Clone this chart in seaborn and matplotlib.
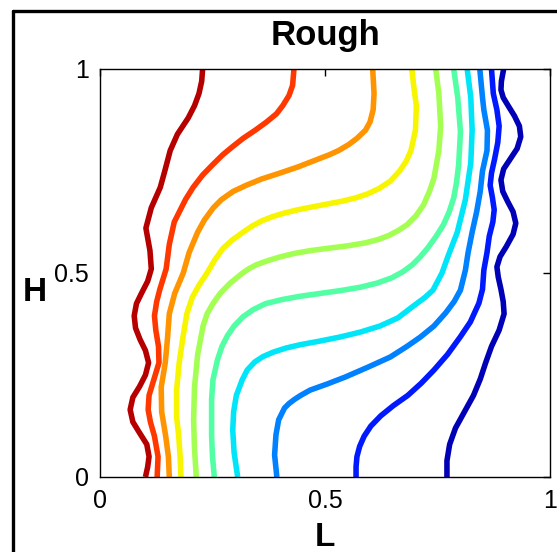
import numpy as np
import pandas as pd
import matplotlib
matplotlib.use("Agg")
import matplotlib.pyplot as plt
from matplotlib.lines import Line2D
import seaborn as sns

# ---- data: each isoline as L (horizontal) read at heights H ----
LEVELS = ["0.95", "0.85", "0.75", "0.65", "0.55", "0.45", "0.35", "0.25", "0.15", "0.05"]

H_095 = [0.000, 0.025, 0.050, 0.080, 0.108, 0.135, 0.165, 0.195, 0.222, 0.250, 0.280, 0.310,
         0.337, 0.365, 0.395, 0.425, 0.452, 0.480, 0.510, 0.555, 0.610, 0.660, 0.710, 0.750,
         0.800, 0.840, 0.880, 0.910, 0.940, 0.970, 1.000]
L_095 = [0.101, 0.106, 0.109, 0.104, 0.088, 0.073, 0.067, 0.073, 0.088, 0.101, 0.108, 0.101,
         0.089, 0.079, 0.076, 0.081, 0.093, 0.106, 0.114, 0.111, 0.102, 0.114, 0.134, 0.144,
         0.156, 0.172, 0.196, 0.210, 0.220, 0.226, 0.228]

H_085 = [0.00, 0.05, 0.10, 0.135, 0.165, 0.20, 0.24, 0.28, 0.32, 0.36, 0.395, 0.43, 0.46, 0.51,
         0.57, 0.625, 0.68, 0.71, 0.74, 0.765, 0.79, 0.81, 0.83, 0.85, 0.87, 0.89, 0.91, 0.935,
         0.96, 1.00]
L_085 = [0.127, 0.129, 0.121, 0.112, 0.107, 0.109, 0.120, 0.131, 0.130, 0.124, 0.121, 0.126,
         0.133, 0.147, 0.154, 0.165, 0.190, 0.207, 0.228, 0.250, 0.273, 0.295, 0.318, 0.345,
         0.370, 0.392, 0.406, 0.420, 0.428, 0.431]

H_075 = [0.00, 0.05, 0.10, 0.16, 0.22, 0.28, 0.34, 0.40, 0.45, 0.50, 0.55, 0.60, 0.63, 0.66,
         0.68, 0.70, 0.715, 0.73, 0.745, 0.76, 0.775, 0.79, 0.80, 0.815, 0.83, 0.85, 0.87, 0.90,
         0.94, 1.00]
L_075 = [0.154, 0.152, 0.146, 0.137, 0.136, 0.145, 0.150, 0.154, 0.166, 0.185, 0.198, 0.217,
         0.232, 0.252, 0.270, 0.296, 0.325, 0.358, 0.400, 0.440, 0.475, 0.510, 0.530, 0.553,
         0.571, 0.590, 0.600, 0.607, 0.609, 0.606]

H_065 = [0.00, 0.05, 0.10, 0.15, 0.21, 0.28, 0.34, 0.40, 0.44, 0.47, 0.50, 0.53, 0.56, 0.58,
         0.60, 0.615, 0.628, 0.638, 0.647, 0.655, 0.662, 0.669, 0.676, 0.684, 0.694, 0.707,
         0.725, 0.75, 0.775, 0.80, 0.85, 0.91, 0.96, 1.00]
L_065 = [0.180, 0.178, 0.175, 0.170, 0.170, 0.176, 0.184, 0.193, 0.205, 0.220, 0.238, 0.254,
         0.273, 0.293, 0.318, 0.338, 0.360, 0.383, 0.410, 0.440, 0.472, 0.505, 0.538, 0.568,
         0.595, 0.620, 0.645, 0.666, 0.681, 0.691, 0.701, 0.703, 0.697, 0.693]

H_055 = [0.00, 0.07, 0.14, 0.22, 0.30, 0.37, 0.40, 0.425, 0.45, 0.475, 0.50, 0.51, 0.52, 0.53,
         0.54, 0.548, 0.555, 0.561, 0.567, 0.574, 0.582, 0.592, 0.605, 0.618, 0.64, 0.667, 0.70,
         0.732, 0.80, 0.86, 0.94, 1.00]
L_055 = [0.214, 0.210, 0.208, 0.210, 0.217, 0.229, 0.238, 0.251, 0.267, 0.289, 0.317, 0.330,
         0.347, 0.372, 0.402, 0.432, 0.468, 0.510, 0.553, 0.590, 0.618, 0.642, 0.664, 0.682,
         0.702, 0.719, 0.732, 0.742, 0.753, 0.757, 0.753, 0.746]

H_045 = [0.00, 0.05, 0.10, 0.19, 0.238, 0.287, 0.32, 0.346, 0.37, 0.392, 0.41, 0.425, 0.435,
         0.443, 0.450, 0.457, 0.465, 0.475, 0.488, 0.503, 0.52, 0.54, 0.561, 0.59, 0.618, 0.65,
         0.684, 0.72, 0.765, 0.846, 0.93, 1.00]
L_045 = [0.254, 0.250, 0.248, 0.248, 0.251, 0.261, 0.271, 0.283, 0.298, 0.317, 0.340, 0.368,
         0.405, 0.445, 0.490, 0.535, 0.578, 0.615, 0.648, 0.673, 0.694, 0.712, 0.728, 0.747,
         0.763, 0.776, 0.786, 0.792, 0.797, 0.801, 0.795, 0.786]

H_035 = [0.00, 0.06, 0.115, 0.16, 0.20, 0.238, 0.262, 0.282, 0.295, 0.306, 0.316, 0.324, 0.333,
         0.343, 0.355, 0.370, 0.390, 0.417, 0.44, 0.458, 0.50, 0.54, 0.60, 0.68, 0.77, 0.85,
         0.93, 1.00]
L_035 = [0.306, 0.298, 0.295, 0.297, 0.303, 0.316, 0.327, 0.344, 0.362, 0.385, 0.413, 0.444,
         0.488, 0.533, 0.578, 0.622, 0.662, 0.694, 0.722, 0.740, 0.760, 0.773, 0.794, 0.812,
         0.824, 0.827, 0.824, 0.816]

H_025 = [0.00, 0.054, 0.103, 0.14, 0.169, 0.18, 0.19, 0.20, 0.213, 0.228, 0.245, 0.27, 0.294,
         0.32, 0.343, 0.37, 0.402, 0.43, 0.458, 0.507, 0.55, 0.60, 0.65, 0.70, 0.75, 0.80, 0.85,
         0.90, 0.93, 1.00]
L_025 = [0.393, 0.388, 0.391, 0.397, 0.410, 0.420, 0.432, 0.446, 0.467, 0.505, 0.545, 0.597,
         0.645, 0.682, 0.712, 0.742, 0.768, 0.787, 0.801, 0.812, 0.818, 0.827, 0.837, 0.845,
         0.850, 0.860, 0.861, 0.853, 0.850, 0.844]

H_015 = [0.00, 0.025, 0.05, 0.075, 0.10, 0.125, 0.15, 0.175, 0.20, 0.23, 0.262, 0.30, 0.344,
         0.38, 0.426, 0.46, 0.507, 0.55, 0.59, 0.625, 0.655, 0.685, 0.715, 0.745, 0.78, 0.82,
         0.86, 0.90, 0.94, 1.00]
L_015 = [0.569, 0.569, 0.571, 0.577, 0.587, 0.602, 0.624, 0.652, 0.684, 0.714, 0.742, 0.772,
         0.801, 0.823, 0.842, 0.850, 0.853, 0.860, 0.865, 0.873, 0.876, 0.872, 0.867, 0.870,
         0.877, 0.884, 0.887, 0.882, 0.874, 0.870]

H_005 = [0.00, 0.04, 0.08, 0.12, 0.16, 0.20, 0.24, 0.28, 0.32, 0.36, 0.40, 0.43, 0.46, 0.49,
         0.515, 0.54, 0.565, 0.595, 0.622, 0.65, 0.675, 0.70, 0.728, 0.755, 0.78, 0.805, 0.834,
         0.86, 0.885, 0.91, 0.93, 0.949, 0.97, 1.00]
L_005 = [0.771, 0.771, 0.777, 0.790, 0.810, 0.830, 0.845, 0.857, 0.870, 0.887, 0.898, 0.896,
         0.891, 0.885, 0.882, 0.889, 0.903, 0.918, 0.924, 0.918, 0.906, 0.895, 0.891, 0.897,
         0.912, 0.927, 0.935, 0.932, 0.921, 0.907, 0.896, 0.891, 0.892, 0.897]

TICKS = [0, 0.5, 1]
TICK_LABELS = ["0", "0.5", "1"]

lines_H = [H_095, H_085, H_075, H_065, H_055, H_045, H_035, H_025, H_015, H_005]
lines_L = [L_095, L_085, L_075, L_065, L_055, L_045, L_035, L_025, L_015, L_005]

frames = []
for lev, hs, ls in zip(LEVELS, lines_H, lines_L):
    frames.append(pd.DataFrame({"level": lev, "H": hs, "L": ls}))
df = pd.concat(frames, ignore_index=True)

cmap = plt.get_cmap("jet")
palette = {lev: cmap(float(lev)) for lev in LEVELS}

# ---- figure ----
sns.set_style("white")
plt.rcParams["font.family"] = ["Liberation Sans", "DejaVu Sans"]
plt.rcParams["text.color"] = "black"

W, Hpx = 557, 552
fig = plt.figure(figsize=(W / 100, Hpx / 100), dpi=100)
ax = fig.add_axes([100 / W, 1 - 477 / Hpx, 450 / W, 408 / Hpx])

sns.lineplot(data=df, x="L", y="H", hue="level", hue_order=LEVELS, palette=palette,
             orient="y", sort=True, estimator=None, legend=False, linewidth=4.0,
             ax=ax, solid_joinstyle="round", solid_capstyle="butt")

ax.set_xlim(0, 1)
ax.set_ylim(0, 1)
ax.set_xticks(TICKS)
ax.set_xticklabels(TICK_LABELS)
ax.set_yticks(TICKS)
ax.set_yticklabels(TICK_LABELS)
ax.tick_params(direction="in", top=True, right=True, length=5, width=1,
               labelsize=18, colors="black")
ax.tick_params(axis="x", pad=9)
ax.tick_params(axis="y", pad=8)
for s in ax.spines.values():
    s.set_color("black")
    s.set_linewidth(1.0)

ax.set_xlabel("L", fontsize=24, fontweight="bold", color="black")
ax.xaxis.set_label_coords(0.5, -0.148)
ax.xaxis.label.set_va("center")
ax.set_ylabel("H", fontsize=24, fontweight="bold", rotation=0, color="black")
ax.yaxis.set_label_coords(-0.145, 0.451)
ax.yaxis.label.set_va("center")
ax.yaxis.label.set_ha("center")

fig.text(325 / W, 1 - 35 / Hpx, "Rough", fontsize=25, fontweight="bold",
         color="black", ha="center", va="center")

# figure frame (left and top edges visible)
fig.add_artist(Line2D([13 / W, 13 / W], [0, 1 - 10.5 / Hpx], transform=fig.transFigure,
                      color="black", linewidth=2.4))
fig.add_artist(Line2D([13 / W, 1], [1 - 10.5 / Hpx, 1 - 10.5 / Hpx], transform=fig.transFigure,
                      color="black", linewidth=2.4))

fig.savefig("out.png", dpi=100)
